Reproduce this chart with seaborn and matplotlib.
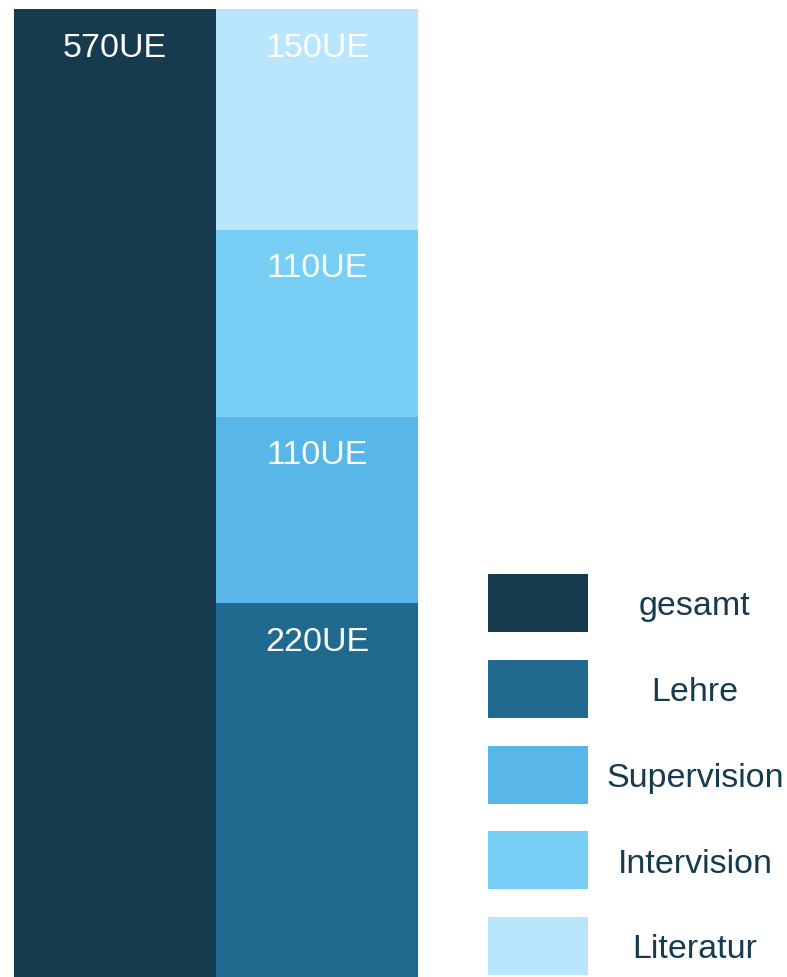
import matplotlib
matplotlib.use("Agg")
import matplotlib.pyplot as plt
from matplotlib.patches import Rectangle
import seaborn as sns
import pandas as pd

# data
bar_names = ["gesamt", "Aufteilung"]
total_value = 570
part_names = ["Lehre", "Supervision", "Intervision", "Literatur"]
part_values = [220, 110, 110, 150]
unit = "UE"

legend_names = ["gesamt"] + part_names
colors = {
    "gesamt": "#163a4e",
    "Lehre": "#206a8f",
    "Supervision": "#58b6e8",
    "Intervision": "#78cff5",
    "Literatur": "#b9e6fd",
}
text_color = "#163a4e"

sns.set_theme(style="white")
plt.rcParams["font.family"] = ["Liberation Sans", "DejaVu Sans"]

fig = plt.figure(figsize=(7.87, 9.78), dpi=100)
ax = fig.add_axes([14 / 787, 0, 404 / 787, 1 - 10 / 978])

# left bar: total
df_total = pd.DataFrame({"bar": ["gesamt"], "value": [total_value]})
sns.barplot(data=df_total, x="bar", y="value", order=bar_names,
            color=colors["gesamt"], width=1.0, saturation=1,
            linewidth=0, ax=ax)

# right bar: stacked parts, drawn as cumulative sums from the top down
cum = pd.Series(part_values).cumsum().tolist()
for name, top in reversed(list(zip(part_names, cum))):
    df_part = pd.DataFrame({"bar": ["Aufteilung"], "value": [top]})
    sns.barplot(data=df_part, x="bar", y="value", order=bar_names,
                color=colors[name], width=1.0, saturation=1,
                linewidth=0, ax=ax)

ax.set_xlim(-0.5, 1.5)
ax.set_ylim(0, total_value)

# value labels near the top of each segment
def label(xpos, top, value):
    ax.annotate(f"{value}{unit}", xy=(xpos, min(top, total_value)),
                xytext=(0, -27.5), textcoords="offset points",
                ha="center", va="center", color="white", fontsize=24.5)

label(0, total_value, total_value)
for name, top, val in zip(part_names, cum, part_values):
    label(1, top, val)

ax.set_axis_off()

# legend: swatches with centred labels
lax = fig.add_axes([488 / 787, 0, 299 / 787, 403 / 978])
lax.set_xlim(0, 299)
lax.set_ylim(403, 0)
lax.set_axis_off()
pitch = 85.75
for i, name in enumerate(legend_names):
    y0 = i * pitch
    lax.add_patch(Rectangle((0, y0), 100, 58, color=colors[name], lw=0))
    lax.text(207, y0 + 32, name, ha="center", va="center",
             color=text_color, fontsize=24.5)

fig.savefig("out.png", dpi=100)
